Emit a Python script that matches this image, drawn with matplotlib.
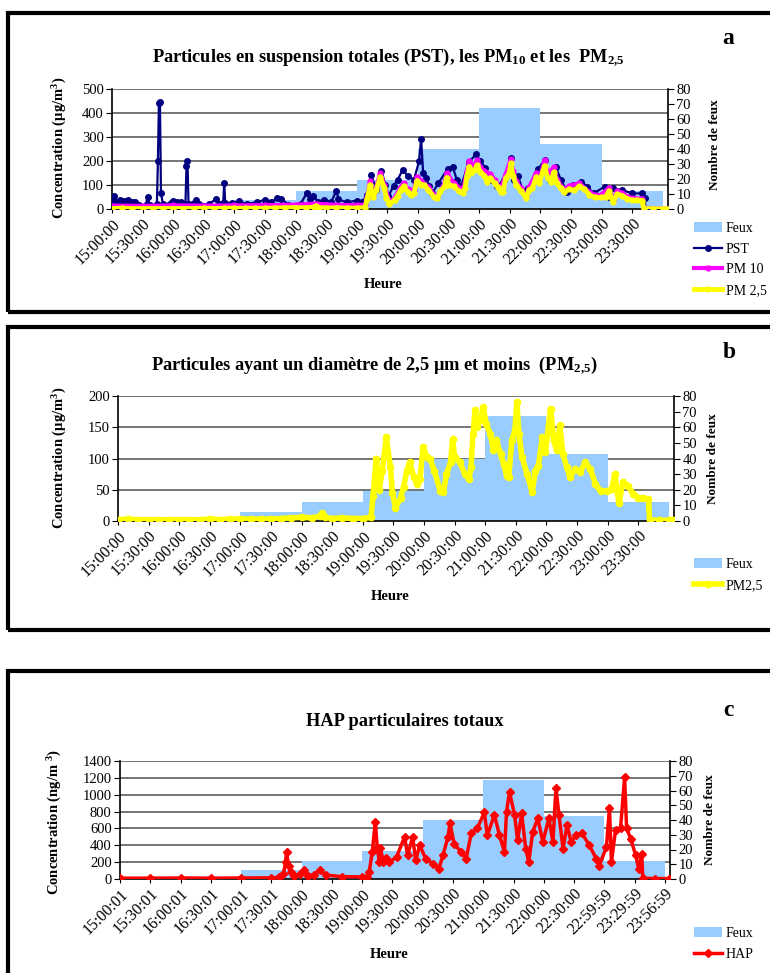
import matplotlib
matplotlib.use("Agg")
import matplotlib.pyplot as plt
from matplotlib.patches import Rectangle

plt.rcParams['font.family'] = ['Liberation Serif', 'DejaVu Serif']
plt.rcParams['mathtext.fontset'] = 'custom'
plt.rcParams['mathtext.rm'] = 'Liberation Serif'
plt.rcParams['mathtext.bf'] = 'Liberation Serif:bold'
plt.rcParams['mathtext.default'] = 'bf'

# nombre de feux par heure
feux_h = ["15:00", "16:00", "17:00", "18:00", "19:00", "20:00", "21:00", "22:00", "23:00"]
feux = [0, 0, 6, 12, 19, 40, 67, 43, 12]

# PM2,5 (ug/m3)
pm25_t = ["15:00", "15:10", "15:20", "15:30", "15:40", "15:50", "16:00", "16:10", "16:20", "16:30",
          "16:40", "16:50", "17:00", "17:10", "17:20", "17:30", "17:40", "17:50", "18:00", "18:10",
          "18:18", "18:20", "18:23", "18:30", "18:40", "18:50", "19:00", "19:08", "19:10", "19:13",
          "19:16", "19:19", "19:23", "19:27", "19:29", "19:32", "19:37", "19:40", "19:43", "19:46",
          "19:50", "19:53", "19:56", "19:59", "20:03", "20:06", "20:10", "20:16", "20:19", "20:22",
          "20:26", "20:28", "20:30", "20:35", "20:40", "20:44", "20:46", "20:48", "20:50", "20:52",
          "20:55", "20:58", "21:01", "21:05", "21:08", "21:11", "21:15", "21:18", "21:21", "21:23",
          "21:26", "21:29", "21:31", "21:33", "21:36", "21:41", "21:46", "21:49", "21:52", "21:56",
          "21:59", "22:02", "22:04", "22:07", "22:10", "22:13", "22:16", "22:20", "22:23", "22:28",
          "22:33", "22:38", "22:43", "22:48", "22:53", "22:59", "23:04", "23:07", "23:11", "23:15",
          "23:20", "23:25", "23:30", "23:35", "23:40", "23:41", "23:50", "24:00", "24:04"]
pm25 = [2, 3, 2, 2, 2, 2, 2, 2, 2, 3,
        2, 3, 3, 3, 3, 3, 4, 5, 6, 5,
        8, 13, 6, 4, 5, 4, 4, 6, 40, 100,
        50, 80, 134, 86, 45, 21, 37, 55, 80, 94,
        70, 59, 67, 118, 102, 99, 80, 48, 46, 75,
        94, 131, 102, 94, 75, 67, 86, 139, 177, 150,
        161, 182, 155, 139, 113, 129, 107, 91, 72, 70,
        129, 145, 190, 139, 102, 75, 46, 80, 88, 134,
        110, 153, 180, 129, 113, 153, 107, 86, 70, 83,
        78, 94, 83, 59, 48, 48, 51, 75, 29, 62,
        56, 43, 37, 37, 35, 2, 1, 1, 1]

# PM10 (ug/m3)
pm10_t = ["15:00", "15:30", "16:00", "16:30", "17:00", "17:30", "18:00", "18:20", "18:40", "19:00",
          "19:08", "19:10", "19:13", "19:16", "19:19", "19:23", "19:27", "19:32", "19:37", "19:43",
          "19:46", "19:50", "19:56", "19:59", "20:03", "20:10", "20:16", "20:19", "20:26", "20:28",
          "20:35", "20:44", "20:48", "20:50", "20:55", "20:58", "21:01", "21:05", "21:11", "21:15",
          "21:21", "21:26", "21:31", "21:33", "21:36", "21:41", "21:46", "21:49", "21:56", "21:59",
          "22:04", "22:07", "22:13", "22:16", "22:23", "22:28", "22:38", "22:48", "22:53", "22:59",
          "23:07", "23:11", "23:15", "23:20", "23:25", "23:30", "23:40", "23:41", "24:04"]
pm10 = [14, 13, 15, 14, 15, 16, 18, 22, 17, 16,
        18, 50, 115, 60, 92, 150, 98, 30, 46, 92,
        108, 82, 78, 135, 118, 92, 58, 55, 108, 150,
        108, 78, 158, 198, 180, 205, 175, 158, 146, 122,
        84, 146, 208, 157, 116, 86, 55, 92, 152, 125,
        203, 146, 173, 122, 82, 96, 108, 70, 58, 58,
        88, 36, 74, 67, 52, 46, 43, 3, 2]

# PST (ug/m3)
pst_t = ["15:00", "15:02", "15:04", "15:08", "15:12", "15:16", "15:20", "15:23", "15:26", "15:33",
         "15:35", "15:37", "15:44", "15:45", "15:46", "15:47", "15:48", "15:50", "15:58", "16:00",
         "16:04", "16:08", "16:12", "16:13", "16:14", "16:15", "16:20", "16:22", "16:25", "16:35",
         "16:42", "16:45", "16:49", "16:50", "16:51", "16:58", "17:04", "17:12", "17:22", "17:30",
         "17:36", "17:42", "17:46", "17:53", "18:05", "18:11", "18:14", "18:17", "18:22", "18:28",
         "18:35", "18:40", "18:42", "18:50", "19:00", "19:05", "19:10", "19:14", "19:19", "19:24",
         "19:28", "19:31", "19:36", "19:40", "19:45", "19:50", "19:56", "20:01", "20:03", "20:05",
         "20:08", "20:11", "20:14", "20:20", "20:29", "20:34", "20:38", "20:42", "20:50", "20:57",
         "21:01", "21:06", "21:11", "21:17", "21:24", "21:31", "21:34", "21:38", "21:43", "21:48",
         "21:58", "22:04", "22:09", "22:15", "22:20", "22:26", "22:32", "22:40", "22:46", "22:52",
         "23:03", "23:07", "23:11", "23:20", "23:30", "23:40", "23:42", "23:43", "24:04"]
pst = [15, 55, 30, 38, 32, 38, 30, 28, 15, 15,
       52, 15, 20, 200, 440, 447, 65, 20, 25, 32,
       30, 28, 20, 180, 198, 22, 25, 38, 20, 20,
       42, 20, 25, 108, 25, 25, 32, 21, 28, 39,
       30, 45, 42, 18, 22, 67, 40, 56, 30, 38,
       30, 77, 40, 28, 35, 28, 60, 143, 81, 160,
       100, 53, 97, 122, 164, 136, 122, 199, 292, 150,
       129, 94, 67, 108, 167, 175, 122, 94, 197, 228,
       200, 171, 122, 94, 122, 211, 122, 136, 74, 88,
       167, 204, 121, 174, 121, 72, 100, 114, 93, 65,
       93, 51, 86, 79, 65, 65, 44, 2, 2]

# HAP particulaires (ng/m3)
hap_t = ["15:00", "15:30", "16:00", "16:30", "17:00", "17:30", "17:38", "17:42", "17:44", "17:45",
         "17:47", "17:49", "17:52", "17:58", "18:02", "18:06", "18:12", "18:18", "18:24", "18:40",
         "19:00", "19:05", "19:07", "19:10", "19:13", "19:15", "19:17", "19:18", "19:21", "19:24",
         "19:27", "19:34", "19:42", "19:45", "19:50", "19:53", "19:57", "20:03", "20:10", "20:16",
         "20:20", "20:25", "20:27", "20:31", "20:38", "20:43", "20:48", "20:54", "21:01", "21:04",
         "21:11", "21:16", "21:21", "21:23", "21:26", "21:31", "21:34", "21:38", "21:42", "21:45",
         "21:49", "21:54", "21:59", "22:05", "22:09", "22:12", "22:15", "22:19", "22:23", "22:27",
         "22:32", "22:38", "22:45", "22:52", "22:55", "23:02", "23:05", "23:07", "23:11", "23:16",
         "23:20", "23:22", "23:26", "23:31", "23:34", "23:37", "23:38", "23:50", "24:04"]
hap = [10, 10, 12, 10, 12, 14, 20, 60, 200, 323,
       150, 87, 40, 60, 106, 40, 50, 106, 47, 28,
       25, 28, 87, 323, 678, 363, 205, 363, 205, 245,
       200, 260, 500, 280, 500, 220, 400, 240, 180, 120,
       280, 500, 660, 420, 320, 240, 540, 600, 790, 520,
       760, 520, 320, 800, 1030, 760, 460, 780, 360, 200,
       560, 720, 440, 720, 440, 1080, 760, 360, 640, 440,
       520, 540, 400, 240, 160, 380, 840, 200, 580, 600,
       1208, 600, 480, 280, 120, 300, 10, 5, 5]

labels_ab = ["15:00:00", "15:30:00", "16:00:00", "16:30:00", "17:00:00", "17:30:00",
             "18:00:00", "18:30:00", "19:00:00", "19:30:00", "20:00:00", "20:30:00",
             "21:00:00", "21:30:00", "22:00:00", "22:30:00", "23:00:00", "23:30:00"]
labels_c = ["15:00:01", "15:30:01", "16:00:01", "16:30:01", "17:00:01", "17:30:01",
            "18:00:00", "18:30:00", "19:00:00", "19:30:00", "20:00:00", "20:30:00",
            "21:00:00", "21:30:00", "22:00:00", "22:30:00", "22:59:59", "23:29:59", "23:56:59"]


def hm(s):
    h, m = s.split(':')
    return (int(h) - 15) * 60 + int(m)


W, H = 770, 973
fig = plt.figure(figsize=(W / 100, H / 100), dpi=100)


def fx(x):
    return x / W


def fy(y):
    return 1 - y / H


def panel(l, t, r, b, ymax, ystep, xlabels):
    rect = [fx(l), fy(b), fx(r) - fx(l), fy(t) - fy(b)]
    axg = fig.add_axes(rect)
    axg.set_zorder(1)
    axb = axg.twinx()
    axb.set_zorder(2)
    axl = fig.add_axes(rect, sharex=axg, sharey=axg)
    axl.set_zorder(3)
    axl.patch.set_visible(False)
    axl.axis('off')
    axg.set_xlim(0, 545)
    axg.set_ylim(0, ymax)
    axg.set_yticks(range(0, ymax + 1, ystep))
    axg.yaxis.grid(True, color='#505050', lw=1.1)
    axg.set_axisbelow(True)
    for s in axg.spines.values():
        s.set_visible(False)
    axg.set_xticks([30 * i for i in range(len(xlabels))])
    axg.set_xticklabels(xlabels, rotation=45, ha='right', rotation_mode='anchor', fontsize=11.5)
    axg.tick_params(axis='x', length=3, pad=2)
    axg.tick_params(axis='y', labelsize=10.5, length=4, pad=2)
    axb.set_ylim(0, 80)
    axb.set_yticks(range(0, 81, 10))
    axb.tick_params(axis='y', labelsize=10.5, length=4, pad=2)
    axb.spines['top'].set_visible(False)
    for k in ['left', 'bottom', 'right']:
        axb.spines[k].set_color('black')
        axb.spines[k].set_linewidth(1.2)
    bars = axb.bar([hm(h) for h in feux_h], feux, width=60, align='edge',
                   color='#99CCFF', label='Feux')
    return axg, axb, axl, bars


def frame(top, bottom):
    fig.patches.append(Rectangle((fx(8), fy(bottom)), 1.05, fy(top) - fy(bottom),
                                 transform=fig.transFigure, fill=False, lw=3,
                                 ec='black', clip_on=False))


lab_kw = dict(fontsize=10.5, fontweight='bold')
title_kw = dict(ha='center', va='center', fontsize=13.2, fontweight='bold')

# ---- a ----
axg, axb, axl, bars = panel(112, 89, 668, 209, 500, 100, labels_ab)
l1, = axl.plot([hm(t) for t in pst_t], pst, color='#000080', lw=1.6, marker='o', ms=4, label='PST')
l2, = axl.plot([hm(t) for t in pm10_t], pm10, color='#FF00FF', lw=3, marker='o', ms=3.5, label='PM 10')
l3, = axl.plot([hm(t) for t in pm25_t], pm25, color='#FFFF00', lw=3.5, marker='o', ms=3.5, label='PM 2,5')
fig.text(fx(388), fy(58), r'Particules en suspension totales (PST), les PM$_{10}$ et les  PM$_{2{,}5}$', **title_kw)
fig.text(fx(728), fy(38), 'a', ha='center', va='center', fontsize=17, fontweight='bold')
fig.text(fx(60), fy(148), 'Concentration (µg/m$^3$)', rotation=90, ha='center', va='center', **lab_kw)
fig.text(fx(715), fy(145), 'Nombre de feux', rotation=90, ha='center', va='center', fontsize=9.5, fontweight='bold')
fig.text(fx(383), fy(284), 'Heure', ha='center', va='center', **lab_kw)
fig.legend([bars, l1, l2, l3], ['Feux', 'PST', 'PM 10', 'PM 2,5'], loc='upper left',
           bbox_to_anchor=(fx(694), fy(222)), frameon=False, fontsize=10, handlelength=2,
           handletextpad=0.3, labelspacing=0.55, borderpad=0, borderaxespad=0)
frame(13, 312)

# ---- b ----
axg, axb, axl, bars = panel(118, 396, 674, 521, 200, 50, labels_ab)
l4, = axl.plot([hm(t) for t in pm25_t], pm25, color='#FFFF00', lw=4, marker='o', ms=4.5, label='PM2,5')
fig.text(fx(374), fy(366), r'Particules ayant un diamètre de 2,5 µm et moins  (PM$_{2{,}5}$)', **title_kw)
fig.text(fx(729), fy(353), 'b', ha='center', va='center', fontsize=17, fontweight='bold')
fig.text(fx(60), fy(458), 'Concentration (µg/m$^3$)', rotation=90, ha='center', va='center', **lab_kw)
fig.text(fx(713), fy(459), 'Nombre de feux', rotation=90, ha='center', va='center', fontsize=9.5, fontweight='bold')
fig.text(fx(390), fy(596), 'Heure', ha='center', va='center', **lab_kw)
fig.legend([bars, l4], ['Feux', 'PM2,5'], loc='upper left',
           bbox_to_anchor=(fx(694), fy(558)), frameon=False, fontsize=10, handlelength=2,
           handletextpad=0.3, labelspacing=0.6, borderpad=0, borderaxespad=0)
frame(327, 630)

# ---- c ----
axg, axb, axl, bars = panel(120, 761, 670, 879, 1400, 200, labels_c)
l5, = axl.plot([hm(t) for t in hap_t], hap, color='#FF0000', lw=2.5, marker='D', ms=4, label='HAP')
fig.text(fx(405), fy(722), 'HAP particulaires totaux', **title_kw)
fig.text(fx(728), fy(710), 'c', ha='center', va='center', fontsize=17, fontweight='bold')
fig.text(fx(55), fy(822), 'Concentration (ng/m $^3$)', rotation=90, ha='center', va='center', **lab_kw)
fig.text(fx(710), fy(820), 'Nombre de feux', rotation=90, ha='center', va='center', fontsize=9.5, fontweight='bold')
fig.text(fx(389), fy(955), 'Heure', ha='center', va='center', **lab_kw)
fig.legend([bars, l5], ['Feux', 'HAP'], loc='upper left',
           bbox_to_anchor=(fx(694), fy(927)), frameon=False, fontsize=10, handlelength=2,
           handletextpad=0.3, labelspacing=0.6, borderpad=0, borderaxespad=0)
frame(671, 990)

fig.savefig('out.png', dpi=100)
